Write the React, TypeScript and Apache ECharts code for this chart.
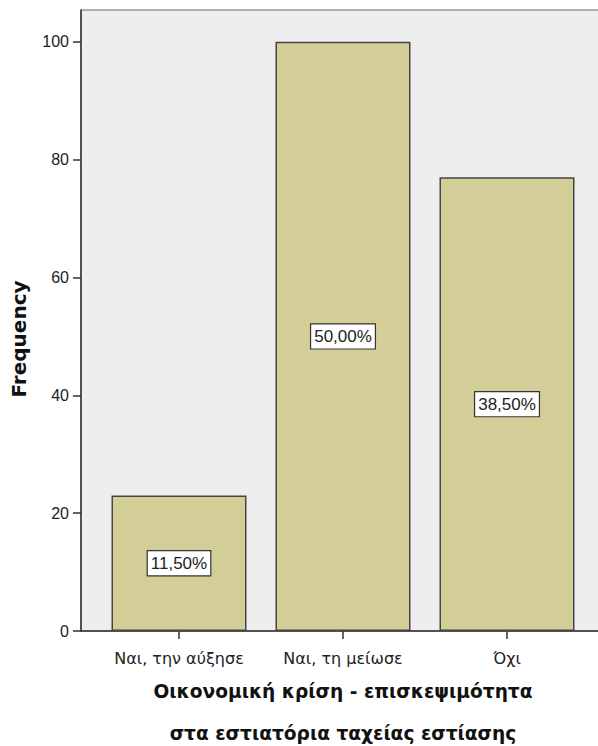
import React, { useEffect, useRef } from "react";
import * as echarts from "echarts";

const categories = ["Ναι, την αύξησε", "Ναι, τη μείωσε", "Όχι"];
const frequencies = [23, 100, 77];
const percentLabels = ["11,50%", "50,00%", "38,50%"];
const yTicks = [0, 20, 40, 60, 80, 100];
const yTitle = "Frequency";
const xTitle = "Οικονομική κρίση - επισκεψιμότητα\nστα εστιατόρια ταχείας εστίασης";

const FONT = "'Liberation Sans', Arial, sans-serif";
const WIDE = "'DejaVu Sans', Verdana, sans-serif";

export default function App() {
  const ref = useRef<HTMLDivElement>(null);
  useEffect(() => {
    if (!ref.current) return;
    const chart = echarts.init(ref.current, null, { renderer: "svg" });
    const yMax = 105.4;
    chart.setOption({
      animation: false,
      backgroundColor: "#ffffff",
      textStyle: { fontFamily: FONT },
      grid: [
        {
          left: 81, right: -2, top: 10, bottom: 115, outerBoundsMode: "none", containLabel: false,
          show: true, backgroundColor: "#eeeeee", borderColor: "#666666", borderWidth: 1,
        },
        { left: 97, right: 9, top: 10, bottom: 115, outerBoundsMode: "none", containLabel: false },
      ],
      graphic: [
        {
          type: "text", x: 19, y: 339, rotation: Math.PI / 2,
          style: {
            text: yTitle, font: "bold 20px 'DejaVu Sans', Verdana, sans-serif",
            fill: "#111111", align: "center", verticalAlign: "middle",
          },
        },
      ],
      xAxis: [
        {
          gridIndex: 0, type: "value", min: 0, max: 1,
          axisLine: { show: true, onZero: false, lineStyle: { color: "#333333", width: 1.5 } },
          axisTick: { show: false }, axisLabel: { show: false }, splitLine: { show: false },
        },
        {
          gridIndex: 1, type: "category", data: categories,
          axisLine: { show: false },
          axisTick: { show: true, alignWithLabel: true, interval: 0, length: 8, lineStyle: { color: "#333333", width: 1.5 } },
          axisLabel: { interval: 0, hideOverlap: false, color: "#222222", fontSize: 16, margin: 19, fontFamily: WIDE },
          name: xTitle, nameLocation: "middle", nameGap: 39,
          nameTextStyle: {
            fontSize: 18.6, fontWeight: "bold", color: "#111111", lineHeight: 42,
            fontFamily: WIDE, verticalAlign: "top",
          },
        },
      ],
      yAxis: [
        {
          gridIndex: 0, type: "value", min: 0, max: yMax,
          axisLine: { show: true, lineStyle: { color: "#333333", width: 1.5 } },
          axisTick: { show: true, length: 8, customValues: yTicks, lineStyle: { color: "#333333", width: 1.5 } },
          axisLabel: { customValues: yTicks, color: "#222222", fontSize: 16, margin: 12, fontFamily: FONT },
          splitLine: { show: false },
        },
        {
          gridIndex: 1, type: "value", min: 0, max: yMax, show: false,
        },
      ],
      series: [
        {
          type: "bar", xAxisIndex: 1, yAxisIndex: 1,
          data: frequencies,
          barWidth: 135,
          itemStyle: { color: "#d3cd98", borderColor: "#444444", borderWidth: 1.5 },
          label: {
            show: true, position: "inside",
            formatter: (p: any) => percentLabels[p.dataIndex],
            backgroundColor: "#ffffff", borderColor: "#333333", borderWidth: 1.2,
            padding: [4, 3, 3, 3], color: "#222222", fontSize: 17, fontFamily: FONT,
          },
        },
      ],
    });
    return () => chart.dispose();
  }, []);
  return (
    <div
      ref={ref}
      style={{ position: "fixed", left: 0, top: 0, width: 598, height: 746 }}
    />
  );
}
